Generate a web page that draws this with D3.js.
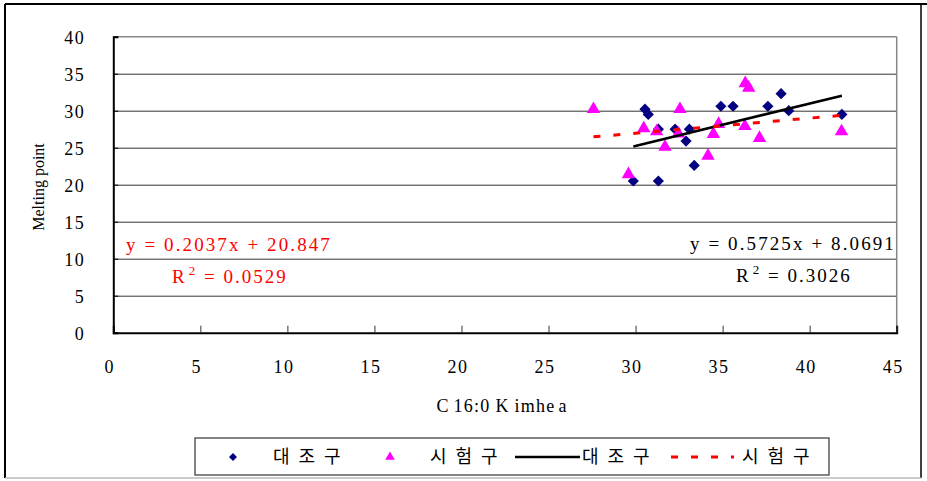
<!DOCTYPE html>
<html>
<head>
<meta charset="utf-8">
<script src="https://cdn.jsdelivr.net/npm/d3@7"></script>
<style>
  html, body { margin: 0; padding: 0; background: #fff; }
  svg { display: block; }
</style>
</head>
<body>
<svg id="chart" width="927" height="481"></svg>
<script>
// C16:0 content vs. melting point, control (대조구) and test (시험구) groups
const controlX = [30.54, 30.73, 31.31, 32.27, 33.09, 32.9, 33.37, 29.87, 31.31, 34.9, 35.6, 37.6, 38.36, 38.8, 41.85];
const controlY = [30.2, 29.5, 27.5, 27.5, 27.5, 25.9, 22.6, 20.5, 20.5, 30.6, 30.6, 30.6, 32.3, 30.0, 29.5];
const testX = [27.58, 32.55, 30.47, 31.21, 32.46, 31.69, 34.47, 34.77, 34.16, 29.59, 36.3, 36.5, 36.28, 37.12, 41.83];
const testY = [30.2, 30.2, 27.6, 27.2, 26.9, 25.1, 26.85, 28.2, 23.9, 21.4, 33.7, 33.1, 27.9, 26.3, 27.2];

// linear trend coefficients [slope, intercept] and R²
const controlFit = [0.5725, 8.0691];
const testFit = [0.2037, 20.847];
const controlR2 = ["0.3026"];
const testR2 = ["0.0529"];

const xTicks = [0, 5, 10, 15, 20, 25, 30, 35, 40, 45];
const yTicks = [0, 5, 10, 15, 20, 25, 30, 35, 40];
const legendLabels = ["대조구", "시험구", "대조구", "시험구"];

const svg = d3.select("#chart");
const serif = "'Liberation Serif', 'Times New Roman', serif";
const kr = "'Noto Sans CJK KR', sans-serif";

// outer frame
svg.append("line").attr("x1", 5).attr("x2", 927).attr("y1", 4).attr("y2", 4).attr("stroke", "#000").attr("stroke-width", 2);
svg.append("line").attr("x1", 5).attr("x2", 5).attr("y1", 4).attr("y2", 478).attr("stroke", "#000").attr("stroke-width", 2);
svg.append("line").attr("x1", 921).attr("x2", 921).attr("y1", 4).attr("y2", 478).attr("stroke", "#000").attr("stroke-width", 1.5);
svg.append("line").attr("x1", 5).attr("x2", 921).attr("y1", 478).attr("y2", 478).attr("stroke", "#bbb").attr("stroke-width", 1.5);

const L = 113.3, R = 896.7, T = 36.7, B = 332.7;
const x = d3.scaleLinear().domain([0, 45]).range([L, R]);
const y = d3.scaleLinear().domain([0, 40]).range([B, T]);

// horizontal gridlines
const grid = svg.append("g").attr("transform", `translate(${L},0)`)
  .call(d3.axisLeft(y).tickValues(yTicks.slice(1, -1)).tickSize(-(R - L)).tickFormat(""));
grid.select(".domain").remove();
grid.selectAll("line").attr("stroke", "#333").attr("stroke-width", 1);

// plot frame: grey top/right
svg.append("line").attr("x1", L).attr("x2", R).attr("y1", T).attr("y2", T).attr("stroke", "#888").attr("stroke-width", 1.5);
svg.append("line").attr("x1", R).attr("x2", R).attr("y1", T).attr("y2", B).attr("stroke", "#888").attr("stroke-width", 1.5);

// x axis
const gx = svg.append("g").attr("transform", `translate(0,${B})`)
  .call(d3.axisBottom(x).tickValues(xTicks).tickSize(-7).tickFormat(d3.format("d")));
gx.select(".domain").attr("stroke", "#000").attr("stroke-width", 2);
gx.selectAll(".tick line").attr("stroke", "#333");
gx.selectAll(".tick text")
  .attr("y", 34).attr("dy", "0.35em").attr("x", -4)
  .attr("font-family", serif).attr("font-size", 18).attr("letter-spacing", 1.5)
  .attr("fill", "#000");

// y axis
const gy = svg.append("g").attr("transform", `translate(${L},0)`)
  .call(d3.axisLeft(y).tickValues(yTicks).tickSize(-5).tickFormat(d3.format("d")));
gy.select(".domain").attr("stroke", "#000").attr("stroke-width", 2);
gy.selectAll(".tick line").attr("stroke", "#000");
gy.selectAll(".tick text")
  .attr("x", -28).attr("dy", "0.35em")
  .attr("font-family", serif).attr("font-size", 18).attr("letter-spacing", 1.5)
  .attr("fill", "#000");

// axis titles
svg.append("text")
  .attr("transform", "translate(44,187) rotate(-90)")
  .attr("text-anchor", "middle")
  .attr("font-family", serif).attr("font-size", 16)
  .text("Melting point");

const xt = svg.append("text")
  .attr("x", 502).attr("y", 412)
  .attr("text-anchor", "middle")
  .attr("font-family", serif).attr("font-size", 18).attr("letter-spacing", 1.2);
xt.append("tspan").text("C");
xt.append("tspan").attr("dx", 4).text("16:0");
xt.append("tspan").attr("dx", 5).text("K");
xt.append("tspan").attr("dx", 5).text("imhe");
xt.append("tspan").attr("dx", 3).text("a");

// trend lines drawn over the range of each series
function trend(xs, fit) {
  const [x0, x1] = d3.extent(xs);
  return [[x0, fit[0] * x0 + fit[1]], [x1, fit[0] * x1 + fit[1]]];
}
const line = d3.line().x(d => x(d[0])).y(d => y(d[1]));

// markers
const diamond = d3.symbol().type(d3.symbolDiamond2).size(80);
const triangle = d3.symbol().type(d3.symbolTriangle).size(78);

svg.append("g").selectAll("path")
  .data(controlX.map((v, i) => [v, controlY[i]]))
  .join("path")
  .attr("d", diamond)
  .attr("transform", d => `translate(${x(d[0])},${y(d[1])})`)
  .attr("fill", "#000080");

svg.append("g").selectAll("path")
  .data(testX.map((v, i) => [v, testY[i]]))
  .join("path")
  .attr("d", triangle)
  .attr("transform", d => `translate(${x(d[0])},${y(d[1])})`)
  .attr("fill", "#ff00ff");

svg.append("path").attr("d", line(trend(controlX, controlFit)))
  .attr("stroke", "#000").attr("stroke-width", 2.5).attr("fill", "none");
svg.append("path").attr("d", line(trend(testX, testFit)))
  .attr("stroke", "#ff0000").attr("stroke-width", 3).attr("fill", "none")
  .attr("stroke-dasharray", "7,13");

// equation labels
function eqText(fit) { return `y = ${fit[0]}x + ${fit[1]}`; }
function r2Text(g, xPos, yPos, val, color) {
  const t = g.append("text").attr("x", xPos).attr("y", yPos)
    .attr("font-family", serif).attr("font-size", 19).attr("letter-spacing", 2).attr("fill", color);
  t.append("tspan").text("R");
  t.append("tspan").attr("dx", 2).attr("dy", -8).attr("font-size", 13).text("2");
  t.append("tspan").attr("dy", 8).text(" = " + val);
}
svg.append("text").attr("x", 126).attr("y", 251)
  .attr("font-family", serif).attr("font-size", 19).attr("letter-spacing", 2.1).attr("fill", "#ff0000")
  .text(eqText(testFit));
r2Text(svg, 172, 283, testR2[0], "#ff0000");

svg.append("text").attr("x", 690).attr("y", 250)
  .attr("font-family", serif).attr("font-size", 19).attr("letter-spacing", 2.1).attr("fill", "#000")
  .text(eqText(controlFit));
r2Text(svg, 736, 282, controlR2[0], "#000");

// legend
const lg = svg.append("g");
lg.append("rect").attr("x", 195).attr("y", 438).attr("width", 634).attr("height", 37)
  .attr("fill", "#fff").attr("stroke", "#333").attr("stroke-width", 1.2);
const ly = 457;
lg.append("path").attr("d", d3.symbol().type(d3.symbolDiamond2).size(40)).attr("transform", `translate(233,${ly})`).attr("fill", "#000080");
lg.append("path").attr("d", d3.symbol().type(d3.symbolTriangle).size(40)).attr("transform", `translate(390,${ly})`).attr("fill", "#ff00ff");
lg.append("line").attr("x1", 515).attr("x2", 580).attr("y1", ly).attr("y2", ly).attr("stroke", "#000").attr("stroke-width", 2.5);
lg.append("line").attr("x1", 671).attr("x2", 734).attr("y1", ly).attr("y2", ly).attr("stroke", "#ff0000").attr("stroke-width", 3).attr("stroke-dasharray", "7,13");
const lx = [273, 430, 582, 742];
lg.selectAll("text.lbl").data(legendLabels).join("text").attr("class", "lbl")
  .attr("x", (d, i) => lx[i]).attr("y", ly).attr("dy", "0.35em")
  .attr("font-family", kr).attr("font-size", 18).attr("letter-spacing", 9).attr("fill", "#000")
  .text(d => d);
</script>
</body>
</html>
